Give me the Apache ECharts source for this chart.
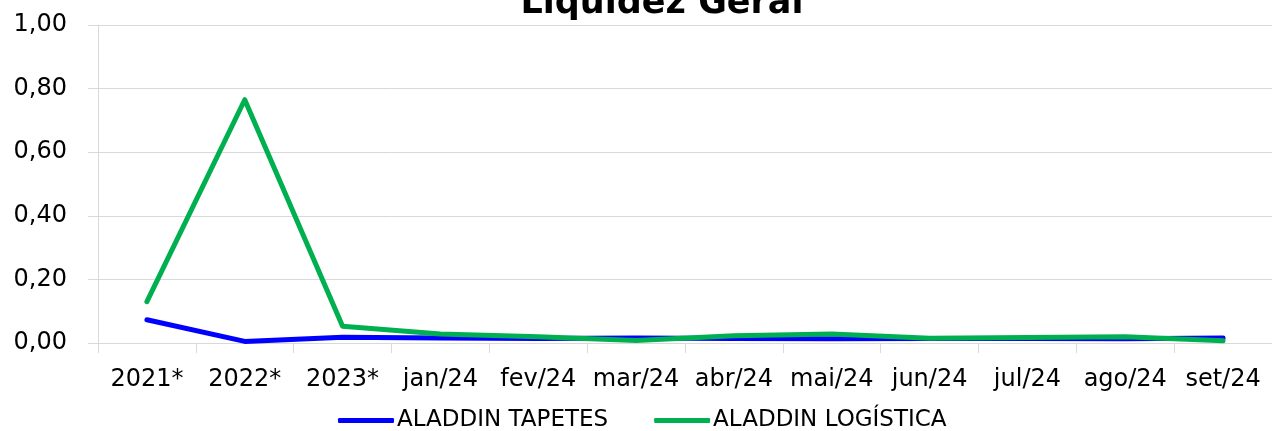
<!DOCTYPE html>
<html>
<head>
<meta charset="utf-8">
<script src="https://cdn.jsdelivr.net/npm/echarts@6/dist/echarts.min.js"></script>
<style>
  html, body { margin: 0; padding: 0; background: #ffffff; }
  #chart { width: 1272px; height: 431px; }
</style>
</head>
<body>
<div id="chart"></div>
<script>
const titleText = 'Liquidez Geral';
const categories = ['2021*', '2022*', '2023*', 'jan/24', 'fev/24', 'mar/24', 'abr/24', 'mai/24', 'jun/24', 'jul/24', 'ago/24', 'set/24'];
const seriesNames = ['ALADDIN TAPETES', 'ALADDIN LOGÍSTICA'];
const tapetes = [0.073, 0.005, 0.018, 0.016, 0.014, 0.016, 0.014, 0.013, 0.014, 0.014, 0.013, 0.016];
const logistica = [0.130, 0.765, 0.053, 0.028, 0.020, 0.008, 0.023, 0.028, 0.015, 0.017, 0.020, 0.007];
const yTicks = { min: 0, max: 1, interval: 0.2 };

const chart = echarts.init(document.getElementById('chart'), null, { renderer: 'canvas' });
const gridColor = '#D9D9D9';
const font = 'DejaVu Sans';

chart.setOption({
  animation: false,
  backgroundColor: '#ffffff',
  graphic: [{
    type: 'text',
    x: 662,
    y: 4,
    style: {
      text: titleText,
      fontFamily: font,
      fontWeight: 'bold',
      fontSize: 35,
      fill: '#000000',
      align: 'center',
      verticalAlign: 'middle'
    }
  }],
  grid: { left: 98, top: 25, width: 1182, height: 318, containLabel: false },
  legend: {
    data: seriesNames,
    left: 338,
    top: 409,
    padding: 0,
    itemGap: 46,
    itemWidth: 56,
    itemHeight: 5,
    icon: 'roundRect',
    textStyle: { fontFamily: font, fontSize: 23, color: '#000000', padding: [0, 0, 0, -2] }
  },
  xAxis: {
    type: 'category',
    data: categories,
    boundaryGap: true,
    axisLine: { show: true, lineStyle: { color: gridColor, width: 1 } },
    axisTick: { show: true, length: 10, alignWithLabel: false, lineStyle: { color: gridColor, width: 1 } },
    axisLabel: { margin: 25, fontFamily: font, fontSize: 24, color: '#000000', interval: 0 },
    splitLine: { show: false }
  },
  yAxis: {
    type: 'value',
    min: yTicks.min,
    max: yTicks.max,
    interval: yTicks.interval,
    axisLine: { show: true, lineStyle: { color: gridColor, width: 1 } },
    axisTick: { show: true, length: 10, lineStyle: { color: gridColor, width: 1 } },
    axisLabel: {
      margin: 31,
      fontFamily: font,
      fontSize: 24,
      color: '#000000',
      formatter: v => v.toFixed(2).replace('.', ',')
    },
    splitLine: { show: true, lineStyle: { color: gridColor, width: 1 } }
  },
  series: [
    {
      name: seriesNames[0],
      type: 'line',
      data: tapetes,
      symbol: 'none',
      color: '#0000FF',
      lineStyle: { color: '#0000FF', width: 5, cap: 'round', join: 'round' }
    },
    {
      name: seriesNames[1],
      type: 'line',
      data: logistica,
      symbol: 'none',
      color: '#00B050',
      lineStyle: { color: '#00B050', width: 5, cap: 'round', join: 'round' }
    }
  ]
});
</script>
</body>
</html>
